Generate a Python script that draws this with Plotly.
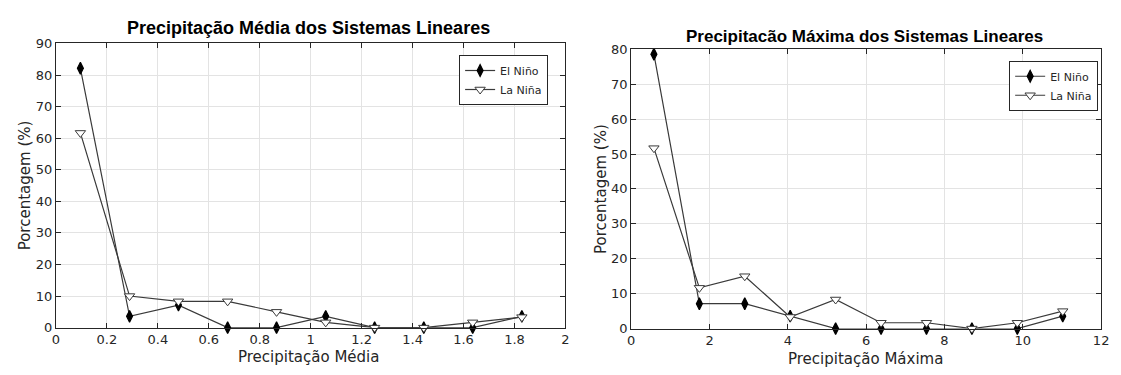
import plotly.graph_objects as go

# Class centres (mm) for the two histograms
x_media = [0.096, 0.289, 0.481, 0.674, 0.866, 1.059, 1.251, 1.444, 1.636, 1.829]
x_maxima = [0.58, 1.74, 2.90, 4.06, 5.22, 6.38, 7.54, 8.70, 9.86, 11.02]

# Percentage of linear systems per class
media_el_nino = [82.14, 3.57, 7.14, 0, 0, 3.57, 0, 0, 0, 3.57]
media_la_nina = [61.67, 10.0, 8.33, 8.33, 5.0, 1.67, 0, 0, 1.67, 3.33]
maxima_el_nino = [78.57, 7.14, 7.14, 3.57, 0, 0, 0, 0, 0, 3.57]
maxima_la_nina = [51.67, 11.67, 15.0, 3.33, 8.33, 1.67, 1.67, 0, 1.67, 5.0]

W, H = 1121, 375


def px_x(p):
    return p / W


def px_y(p):
    return (H - p) / H


LINE = "#3a3a3a"
TXT = "#262626"
TICK_FONT = dict(family="DejaVu Sans", size=13, color=TXT)

fig = go.Figure()


def add_pair(xs, el, la, xa, ya, leg):
    fig.add_trace(go.Scatter(
        x=xs, y=el, name="El Niño", mode="lines+markers", cliponaxis=False,
        line=dict(color=LINE, width=1.2),
        marker=dict(symbol="diamond-tall", size=8.5, color="black",
                    line=dict(color="black", width=1.2)),
        xaxis=xa, yaxis=ya, legend=leg))
    fig.add_trace(go.Scatter(
        x=xs, y=la, name="La Niña", mode="lines+markers", cliponaxis=False,
        line=dict(color=LINE, width=1.2),
        marker=dict(symbol="triangle-down", size=9, color="white",
                    line=dict(color=LINE, width=1)),
        xaxis=xa, yaxis=ya, legend=leg))


add_pair(x_media, media_el_nino, media_la_nina, "x", "y", "legend")
add_pair(x_maxima, maxima_el_nino, maxima_la_nina, "x2", "y2", "legend2")

axis_common = dict(
    showline=True, linecolor="#262626", linewidth=1, mirror="ticks",
    ticks="inside", ticklen=5, tickcolor="#262626",
    showgrid=True, gridcolor="#e3e3e3", gridwidth=1,
    zeroline=False, tickfont=TICK_FONT,
)

LEG_FONT = dict(family="Liberation Sans Narrow, DejaVu Sans", size=11, color=TXT)

fig.update_layout(
    width=W, height=H,
    margin=dict(l=0, r=0, t=0, b=0),
    paper_bgcolor="white", plot_bgcolor="white",
    xaxis=dict(domain=[px_x(52.5), px_x(567.5)], range=[0, 2],
               tickvals=[0, 0.2, 0.4, 0.6, 0.8, 1, 1.2, 1.4, 1.6, 1.8, 2],
               ticktext=["0", "0.2", "0.4", "0.6", "0.8", "1", "1.2", "1.4", "1.6", "1.8", "2"],
               anchor="y", **axis_common),
    yaxis=dict(domain=[px_y(334), px_y(38)], range=[0, 90], dtick=10,
               anchor="x", **axis_common),
    xaxis2=dict(domain=[px_x(634), px_x(1109)], range=[0, 12], dtick=2,
                anchor="y2", **axis_common),
    yaxis2=dict(domain=[px_y(335), px_y(44)], range=[0, 80], dtick=10,
                anchor="x2", **axis_common),
    legend=dict(x=px_x(550), xanchor="right", y=px_y(50), yanchor="top",
                bgcolor="white", bordercolor="#262626", borderwidth=1,
                font=LEG_FONT, tracegroupgap=0, itemwidth=30),
    legend2=dict(x=px_x(1106), xanchor="right", y=px_y(56), yanchor="top",
                 bgcolor="white", bordercolor="#262626", borderwidth=1,
                 font=LEG_FONT, tracegroupgap=0, itemwidth=30),
    showlegend=True,
)

LABEL_FONT = dict(family="DejaVu Sans", size=15, color=TXT)

annotations = [
    dict(text="<b>Precipitação Média dos Sistemas Lineares</b>", x=px_x(308), y=px_y(22),
         font=dict(family="Liberation Sans", size=18, color="black")),
    dict(text="<b>Precipitacão Máxima dos Sistemas Lineares</b>", x=px_x(870), y=px_y(31),
         font=dict(family="Liberation Sans", size=17, color="black")),
    dict(text="Precipitação Média", x=px_x(308), y=px_y(365), font=LABEL_FONT),
    dict(text="Precipitação Máxima", x=px_x(871), y=px_y(367), font=LABEL_FONT),
    dict(text="Porcentagem (%)", x=px_x(21), y=px_y(186), textangle=-90, font=LABEL_FONT),
    dict(text="Porcentagem (%)", x=px_x(604), y=px_y(190), textangle=-90, font=LABEL_FONT),
]
for a in annotations:
    fig.add_annotation(xref="paper", yref="paper", showarrow=False,
                       xanchor="center", yanchor="middle", **a)

fig.write_html("out.html")
